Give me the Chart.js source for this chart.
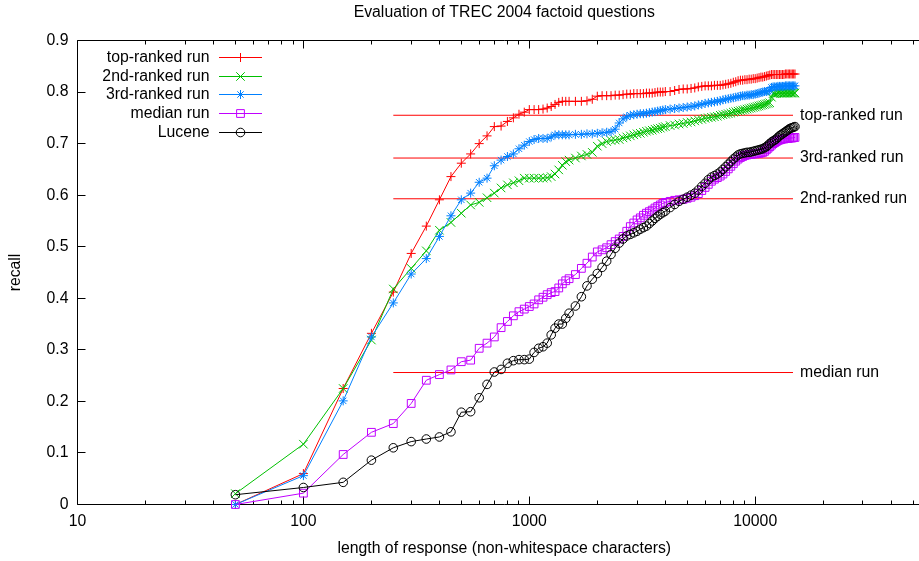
<!DOCTYPE html>
<html>
<head>
<meta charset="utf-8">
<title>Evaluation of TREC 2004 factoid questions</title>
<script src="https://cdn.jsdelivr.net/npm/chart.js@4.4.1/dist/chart.umd.min.js"></script>
<style>
  html, body { margin: 0; padding: 0; overflow: hidden; background: #fff; }
  #wrap { width: 919px; height: 561px; overflow: hidden; }
  canvas { display: block; }
</style>
</head>
<body>
<div id="wrap"><canvas id="chart" width="931" height="561"></canvas></div>
<script>
// response lengths (non-whitespace characters) at which recall was measured
const lengths = [
  50, 100, 150, 200, 250, 300, 350, 400, 450, 500,
  550, 600, 650, 700, 750, 800, 850, 900, 950, 1000,
  1050, 1100, 1150, 1200, 1250, 1300, 1350, 1400, 1450, 1500,
  1600, 1700, 1800, 1900, 2000, 2100, 2200, 2300, 2400, 2500, 2600, 2700, 2800,
  2900, 3000, 3100, 3200, 3300, 3400, 3500, 3600, 3700, 3800, 3900, 4000,
  4200, 4400, 4600, 4800, 5000, 5200, 5400, 5600, 5800, 6000, 6200,
  6400, 6600, 6800, 7000, 7200, 7400, 7600, 7800, 8000, 8200, 8400,
  8600, 8800, 9000, 9200, 9400, 9600, 9800, 10000, 10200, 10400, 10600,
  10800, 11000, 11200, 11400, 11600, 11800, 12000, 12200, 12400, 12600, 12800,
  13000, 13200, 13400, 13600, 13800, 14000, 14200, 14400, 14600, 14800, 15000
];

const topRanked = [
  0.000, 0.060, 0.225, 0.332, 0.412, 0.487, 0.540, 0.591, 0.636, 0.662,
  0.680, 0.700, 0.715, 0.733, 0.734, 0.743, 0.750, 0.757, 0.761, 0.766,
  0.766, 0.766, 0.767, 0.769, 0.772, 0.776, 0.780, 0.782, 0.782, 0.782,
  0.782, 0.782, 0.783, 0.786, 0.792, 0.793, 0.793, 0.793, 0.794, 0.794, 0.795, 0.796, 0.796,
  0.797, 0.797, 0.797, 0.797, 0.798, 0.798, 0.798, 0.799, 0.800, 0.800, 0.800, 0.801,
  0.801, 0.803, 0.805, 0.806, 0.806, 0.807, 0.808, 0.810, 0.811, 0.812, 0.812,
  0.812, 0.813, 0.813, 0.813, 0.814, 0.815, 0.816, 0.817, 0.819, 0.820, 0.822,
  0.823, 0.823, 0.824, 0.824, 0.825, 0.825, 0.826, 0.826, 0.827, 0.828, 0.829,
  0.829, 0.830, 0.831, 0.832, 0.833, 0.834, 0.834, 0.834, 0.834, 0.834, 0.834,
  0.834, 0.834, 0.834, 0.835, 0.835, 0.835, 0.835, 0.835, 0.835, 0.835, 0.835
];

const secondRanked = [
  0.021, 0.117, 0.225, 0.319, 0.418, 0.458, 0.492, 0.532, 0.547, 0.565,
  0.581, 0.586, 0.595, 0.604, 0.614, 0.620, 0.624, 0.628, 0.633, 0.633,
  0.633, 0.633, 0.633, 0.634, 0.636, 0.641, 0.649, 0.658, 0.665, 0.668,
  0.672, 0.676, 0.679, 0.683, 0.695, 0.700, 0.704, 0.706, 0.707, 0.708, 0.711, 0.713, 0.715,
  0.717, 0.719, 0.720, 0.722, 0.724, 0.725, 0.726, 0.728, 0.729, 0.730, 0.732, 0.733,
  0.735, 0.736, 0.738, 0.739, 0.741, 0.742, 0.744, 0.746, 0.747, 0.749, 0.750,
  0.751, 0.752, 0.753, 0.755, 0.756, 0.757, 0.758, 0.759, 0.761, 0.762, 0.763,
  0.764, 0.765, 0.766, 0.767, 0.768, 0.769, 0.770, 0.771, 0.772, 0.773, 0.774,
  0.775, 0.776, 0.777, 0.778, 0.779, 0.790, 0.797, 0.797, 0.797, 0.798, 0.798,
  0.798, 0.798, 0.798, 0.798, 0.798, 0.798, 0.798, 0.798, 0.798, 0.798, 0.798
];

const thirdRanked = [
  0.000, 0.056, 0.201, 0.325, 0.391, 0.447, 0.477, 0.520, 0.560, 0.591,
  0.604, 0.625, 0.633, 0.657, 0.668, 0.675, 0.680, 0.690, 0.697, 0.704,
  0.708, 0.710, 0.710, 0.710, 0.713, 0.717, 0.717, 0.717, 0.717, 0.717,
  0.718, 0.718, 0.719, 0.719, 0.720, 0.721, 0.722, 0.723, 0.728, 0.740, 0.748, 0.752, 0.755,
  0.756, 0.757, 0.758, 0.758, 0.759, 0.760, 0.761, 0.762, 0.763, 0.764, 0.765, 0.766,
  0.767, 0.768, 0.769, 0.770, 0.771, 0.772, 0.773, 0.775, 0.776, 0.778, 0.779,
  0.780, 0.781, 0.782, 0.783, 0.785, 0.786, 0.787, 0.788, 0.789, 0.790, 0.791,
  0.792, 0.793, 0.793, 0.794, 0.794, 0.795, 0.795, 0.796, 0.797, 0.798, 0.799,
  0.800, 0.801, 0.801, 0.802, 0.803, 0.809, 0.810, 0.810, 0.810, 0.811, 0.811,
  0.811, 0.811, 0.811, 0.812, 0.812, 0.812, 0.812, 0.812, 0.812, 0.812, 0.812
];

const medianRun = [
  0.000, 0.022, 0.097, 0.140, 0.157, 0.196, 0.241, 0.252, 0.261, 0.277,
  0.280, 0.303, 0.313, 0.325, 0.343, 0.355, 0.366, 0.374, 0.379, 0.384,
  0.389, 0.397, 0.402, 0.407, 0.411, 0.413, 0.420, 0.428, 0.434, 0.438,
  0.446, 0.458, 0.468, 0.480, 0.490, 0.494, 0.498, 0.504, 0.510, 0.515, 0.520, 0.530, 0.539,
  0.546, 0.552, 0.556, 0.561, 0.565, 0.568, 0.571, 0.575, 0.578, 0.581, 0.584, 0.586,
  0.588, 0.590, 0.591, 0.592, 0.594, 0.596, 0.599, 0.603, 0.609, 0.615, 0.621,
  0.627, 0.631, 0.634, 0.637, 0.641, 0.646, 0.651, 0.656, 0.661, 0.666, 0.670,
  0.673, 0.675, 0.677, 0.678, 0.679, 0.679, 0.680, 0.680, 0.681, 0.681, 0.682,
  0.683, 0.685, 0.688, 0.691, 0.694, 0.697, 0.700, 0.702, 0.704, 0.706, 0.707,
  0.708, 0.709, 0.709, 0.710, 0.710, 0.710, 0.711, 0.711, 0.711, 0.712, 0.712
];

const lucene = [
  0.019, 0.033, 0.043, 0.086, 0.110, 0.122, 0.127, 0.131, 0.141, 0.179,
  0.180, 0.207, 0.233, 0.257, 0.262, 0.274, 0.279, 0.281, 0.281, 0.282,
  0.295, 0.303, 0.306, 0.313, 0.329, 0.342, 0.350, 0.350, 0.361, 0.371,
  0.385, 0.403, 0.424, 0.437, 0.448, 0.460, 0.472, 0.485, 0.497, 0.507, 0.515, 0.521, 0.524,
  0.527, 0.530, 0.534, 0.537, 0.540, 0.545, 0.550, 0.555, 0.559, 0.563, 0.566, 0.569,
  0.576, 0.582, 0.588, 0.592, 0.596, 0.600, 0.604, 0.610, 0.617, 0.623, 0.630,
  0.635, 0.638, 0.641, 0.645, 0.650, 0.655, 0.660, 0.665, 0.670, 0.674, 0.678,
  0.680, 0.681, 0.682, 0.683, 0.683, 0.684, 0.685, 0.686, 0.687, 0.688, 0.689,
  0.690, 0.692, 0.694, 0.697, 0.700, 0.703, 0.705, 0.707, 0.709, 0.712, 0.715,
  0.717, 0.719, 0.721, 0.723, 0.725, 0.727, 0.729, 0.730, 0.731, 0.732, 0.733
];

// horizontal reference levels (recall of each run at its own answer length)
const refNames = ['top-ranked run', '3rd-ranked run', '2nd-ranked run', 'median run'];
const refLevels = [0.755, 0.672, 0.593, 0.256];
const refRange = [250, 14700];

const xMajorTicks = [10, 100, 1000, 10000];
const xTickLabels = ['10', '100', '1000', '10000'];
const yTickLabels = ['0', '0.1', '0.2', '0.3', '0.4', '0.5', '0.6', '0.7', '0.8', '0.9'];

const FONT = '"Liberation Sans", Arial, Helvetica, sans-serif';
const FSIZE = 15.8;
const X_MAX = 60000;
const PLOT_RIGHT = 931; // plot frame runs past the visible window, as in the original

// minor + major tick positions on the log axis
const xTickValues = [];
xMajorTicks.forEach(d => {
  for (let m = 1; m <= 9; m++) if (m * d < X_MAX) xTickValues.push(m * d);
});

function series(label, values, color, style, radius, order) {
  return {
    label,
    data: lengths.map((x, i) => ({ x, y: values[i] })),
    borderColor: color,
    borderWidth: 1,
    pointStyle: style,
    pointRadius: radius,
    pointBorderColor: color,
    pointBorderWidth: 1,
    pointBackgroundColor: 'rgba(0,0,0,0)',
    tension: 0,
    clip: false,
    order,
    inLegend: true
  };
}

const datasets = [
  series('top-ranked run', topRanked, '#ff0000', 'cross', 4.5, 4),
  series('2nd-ranked run', secondRanked, '#00c000', 'crossRot', 6, 3),
  series('3rd-ranked run', thirdRanked, '#0080ff', 'star', 4.5, 2),
  series('median run', medianRun, '#c000ff', 'rect', 5.5, 1),
  series('Lucene', lucene, '#000000', 'circle', 4.3, 0)
];
refLevels.forEach((v, i) => {
  datasets.push({
    label: refNames[i],
    data: refRange.map(x => ({ x, y: v })),
    borderColor: '#ff0000',
    borderWidth: 1,
    pointRadius: 0,
    order: 10,
    refLine: true
  });
});

// gnuplot-style frame with inward ticks, mirrored on the top edge
const framePlugin = {
  id: 'frame',
  beforeDatasetsDraw(chart) {
    const { ctx, chartArea: a, scales: { x, y } } = chart;
    ctx.save();
    ctx.strokeStyle = '#000';
    ctx.lineWidth = 1;
    ctx.beginPath();
    ctx.moveTo(a.left, a.top); ctx.lineTo(a.right, a.top);
    ctx.moveTo(a.left, a.top); ctx.lineTo(a.left, a.bottom);
    ctx.moveTo(a.left, a.bottom); ctx.lineTo(a.right, a.bottom);
    ctx.moveTo(a.right, a.top); ctx.lineTo(a.right, a.bottom);
    x.ticks.forEach(t => {
      const px = Math.floor(x.getPixelForValue(t.value)) + 0.5;
      const len = xMajorTicks.includes(t.value) ? 8 : 4;
      ctx.moveTo(px, a.bottom); ctx.lineTo(px, a.bottom - len);
      ctx.moveTo(px, a.top); ctx.lineTo(px, a.top + len);
    });
    y.ticks.forEach(t => {
      const py = Math.floor(y.getPixelForValue(t.value)) + 0.5;
      ctx.moveTo(a.left, py); ctx.lineTo(a.left + 8, py);
      ctx.moveTo(a.right, py); ctx.lineTo(a.right - 8, py);
    });
    ctx.stroke();
    ctx.restore();
  }
};

const labelsPlugin = {
  id: 'labels',
  afterDatasetsDraw(chart) {
    const { ctx, chartArea: a, scales: { x, y } } = chart;
    ctx.save();
    ctx.font = FSIZE + 'px ' + FONT;
    ctx.fillStyle = '#000';
    ctx.textBaseline = 'middle';

    // title centred over the plot area
    ctx.textAlign = 'center';
    ctx.fillText('Evaluation of TREC 2004 factoid questions', (a.left + a.right) / 2, 12.5);

    // labels at the right end of the reference lines
    ctx.textAlign = 'left';
    chart.data.datasets.filter(d => d.refLine).forEach(d => {
      const end = d.data[d.data.length - 1];
      ctx.fillText(d.label, x.getPixelForValue(end.x) + 7, y.getPixelForValue(end.y));
    });

    // key, top-left inside the frame
    ctx.textAlign = 'right';
    chart.data.datasets.filter(d => d.inLegend).forEach((d, i) => {
      const ry = Math.floor(57.3 + i * 18.7) + 0.5;
      ctx.fillStyle = '#000';
      ctx.fillText(d.label, 209.5, ry);
      ctx.strokeStyle = d.borderColor;
      ctx.lineWidth = 1;
      ctx.beginPath();
      ctx.moveTo(219, ry); ctx.lineTo(262, ry);
      ctx.stroke();
      ctx.fillStyle = 'rgba(0,0,0,0)';
      Chart.helpers.drawPoint(ctx, {
        pointStyle: d.pointStyle, radius: d.pointRadius, rotation: 0, borderWidth: 1
      }, 240.5, ry);
    });
    ctx.restore();
  }
};

const font = { family: FONT, size: FSIZE };

const chart = new Chart(document.getElementById('chart'), {
  type: 'line',
  data: { datasets },
  options: {
    responsive: false,
    maintainAspectRatio: false,
    animation: false,
    devicePixelRatio: 1,
    layout: { padding: { top: 40.5, right: 0, bottom: 0, left: 0 } },
    plugins: {
      legend: { display: false },
      tooltip: { enabled: false },
      title: { display: false }
    },
    scales: {
      x: {
        type: 'logarithmic',
        min: 10,
        max: X_MAX,
        grid: { display: false, drawTicks: false },
        border: { display: false },
        afterBuildTicks: s => { s.ticks = xTickValues.map(v => ({ value: v })); },
        afterFit: s => { s.height = 56.5; },
        ticks: {
          autoSkip: false,
          maxRotation: 0,
          minRotation: 0,
          padding: 8,
          color: '#000',
          font,
          callback: v => {
            const k = xMajorTicks.indexOf(v);
            return k >= 0 ? xTickLabels[k] : '';
          }
        },
        title: {
          display: true,
          text: 'length of response (non-whitespace characters)',
          color: '#000',
          font,
          padding: { top: 0, bottom: 3 }
        }
      },
      y: {
        min: 0,
        max: 0.9,
        grid: { display: false, drawTicks: false },
        border: { display: false },
        afterFit: s => { s.width = 77.5; },
        ticks: {
          stepSize: 0.1,
          padding: 9,
          color: '#000',
          font,
          callback: (v, i) => yTickLabels[i]
        },
        title: {
          display: true,
          text: 'recall',
          color: '#000',
          font,
          padding: { top: 6, bottom: 0 }
        }
      }
    }
  },
  plugins: [framePlugin, labelsPlugin]
});

// the layout keeps some room free on the right; widen the canvas until the frame edge sits at PLOT_RIGHT
for (let k = 0; k < 3; k++) {
  const short = PLOT_RIGHT - chart.chartArea.right;
  if (Math.abs(short) < 0.5) break;
  chart.resize(Math.round(chart.width + short), chart.height);
}
</script>
</body>
</html>
